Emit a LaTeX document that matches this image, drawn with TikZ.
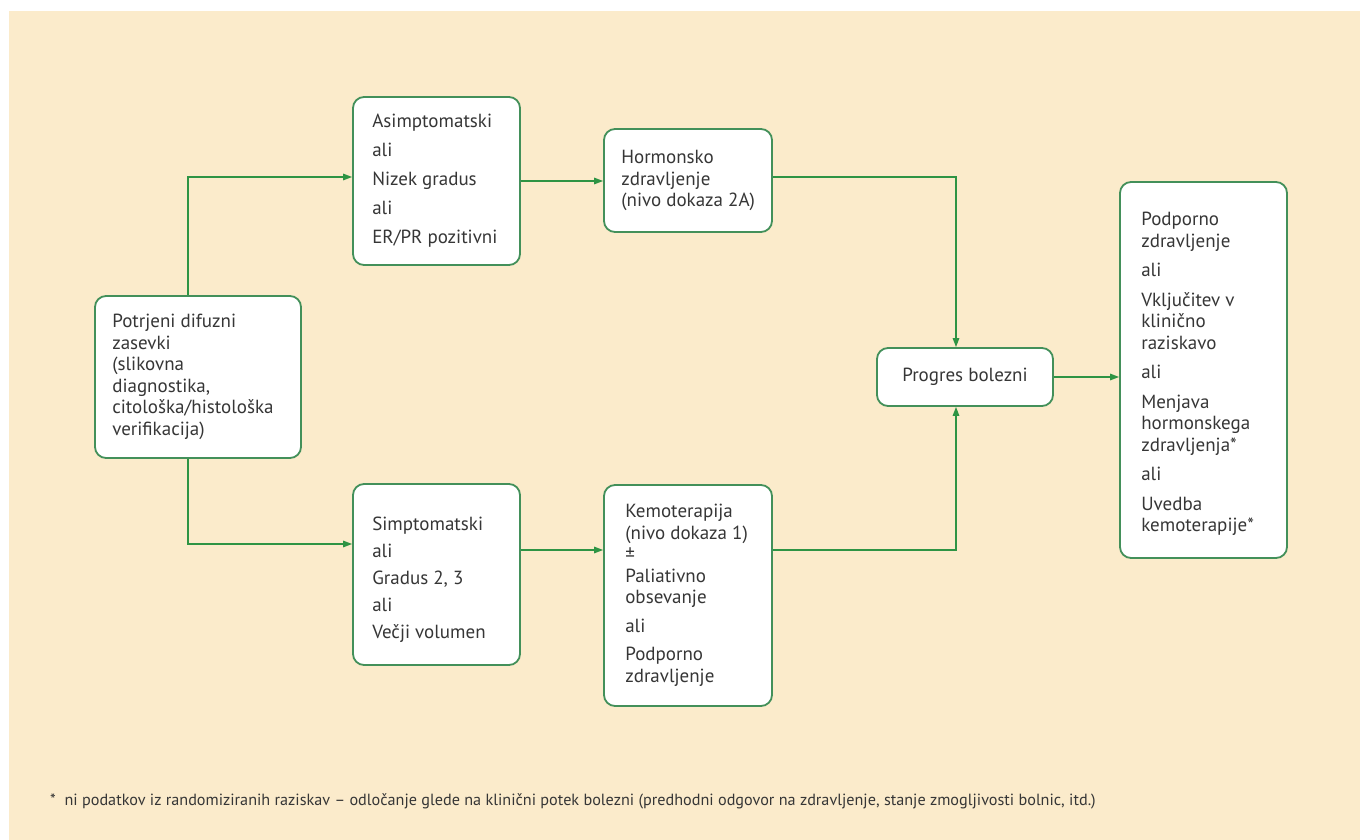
\documentclass[tikz,border=0pt]{standalone}
\usepackage{fontspec}
\setmainfont{PT Sans}
\usetikzlibrary{arrows.meta}
\definecolor{bgcream}{HTML}{FBEBCB}
\definecolor{boxgreen}{HTML}{43905A}
\definecolor{arrgreen}{HTML}{2E9444}
\definecolor{txtgray}{HTML}{363636}
\tikzset{
  box/.style={draw=boxgreen, line width=1.8pt, fill=white, rounded corners=11pt, inner sep=0pt},
  txt/.style={anchor=west, align=left, text=txtgray, inner sep=0pt,
    font=\fontsize{19}{21.5}\selectfont},
  arr/.style={draw=arrgreen, line width=1.4pt, -{Triangle[length=9pt,width=6.5pt]}},
}
\begin{document}
\begin{tikzpicture}[x=1pt,y=-1pt]
\useasboundingbox (0,0) rectangle (1360,840);
\fill[white] (0,0) rectangle (1360,840);
\fill[bgcream] (9,11) rectangle (1360,840);

% boxes
\node[box, minimum width=206pt, minimum height=162pt] (A) at (198,377) {};
\node[box, minimum width=167pt, minimum height=168pt] (B) at (436.5,181) {};
\node[box, minimum width=168pt, minimum height=103pt] (C) at (688,180.5) {};
\node[box, minimum width=176pt, minimum height=58pt] (P) at (965,377) {};
\node[box, minimum width=167pt, minimum height=376pt] (R) at (1203.5,370) {};
\node[box, minimum width=167pt, minimum height=181pt] (S) at (436.5,574.5) {};
\node[box, minimum width=168pt, minimum height=221pt] (K) at (688,595.5) {};

% texts
\node[txt] (At) at ([xshift=18pt]A.west)
 {Potrjeni difuzni\\ zasevki\\ (slikovna\\ diagnostika,\\ citološka/histološka\\ verifikacija)};
\node[txt] (Bt) at ([xshift=20pt]B.west)
 {Asimptomatski\\[7.5pt] ali\\[7.5pt] Nizek gradus\\[7.5pt] ali\\[7.5pt] ER/PR pozitivni};
\node[txt] (Ct) at ([xshift=18pt]C.west)
 {Hormonsko\\ zdravljenje\\ (nivo dokaza 2A)};
\node[txt, anchor=center] (Pt) at (P.center) {Progres bolezni};
\node[txt] (Rt) at ([xshift=22pt,yshift=-4pt]R.west)
 {Podporno\\ zdravljenje\\[8pt] ali\\[8pt] Vključitev v\\ klinično\\ raziskavo\\[8pt] ali\\[8pt] Menjava\\ hormonskega\\ zdravljenja*\\[8pt] ali\\[8pt] Uvedba\\ kemoterapije*};
\node[txt] (St) at ([xshift=20pt,yshift=-5pt]S.west)
 {Simptomatski\\[5.5pt] ali\\[5.5pt] Gradus 2, 3\\[5.5pt] ali\\[5.5pt] Večji volumen};
\node[txt] (Kt) at ([xshift=22pt]K.west)
 {Kemoterapija\\ (nivo dokaza 1)\\ ±\\ Paliativno\\ obsevanje\\[7pt] ali\\[7pt] Podporno\\ zdravljenje};

\node[anchor=west, text=txtgray, inner sep=0pt, font=\fontsize{16.2}{18}\selectfont] (F) at (50,801)
 {*\ \ ni podatkov iz randomiziranih raziskav – odločanje glede na klinični potek bolezni (predhodni odgovor na zdravljenje, stanje zmogljivosti bolnic, itd.)};

% connectors
\coordinate (aTop) at ([xshift=-10pt]A.north);
\coordinate (aBot) at ([xshift=-10pt]A.south);
\draw[arr] (aTop) |- ([yshift=4pt]B.west);
\draw[arr] (aBot) |- ([yshift=30.5pt]S.west);
\draw[arr] (B.east) -- (B.east -| C.west);
\draw[arr] ([yshift=24.5pt]S.east) -- ([yshift=24.5pt]S.east -| K.west);
\draw[arr] ([yshift=3.5pt]C.east) -| ([xshift=-9pt]P.north);
\draw[arr] ([yshift=45.5pt]K.east) -| ([xshift=-9pt]P.south);
\draw[arr] (P.east) -- (P.east -| R.west);
\end{tikzpicture}
\end{document}
